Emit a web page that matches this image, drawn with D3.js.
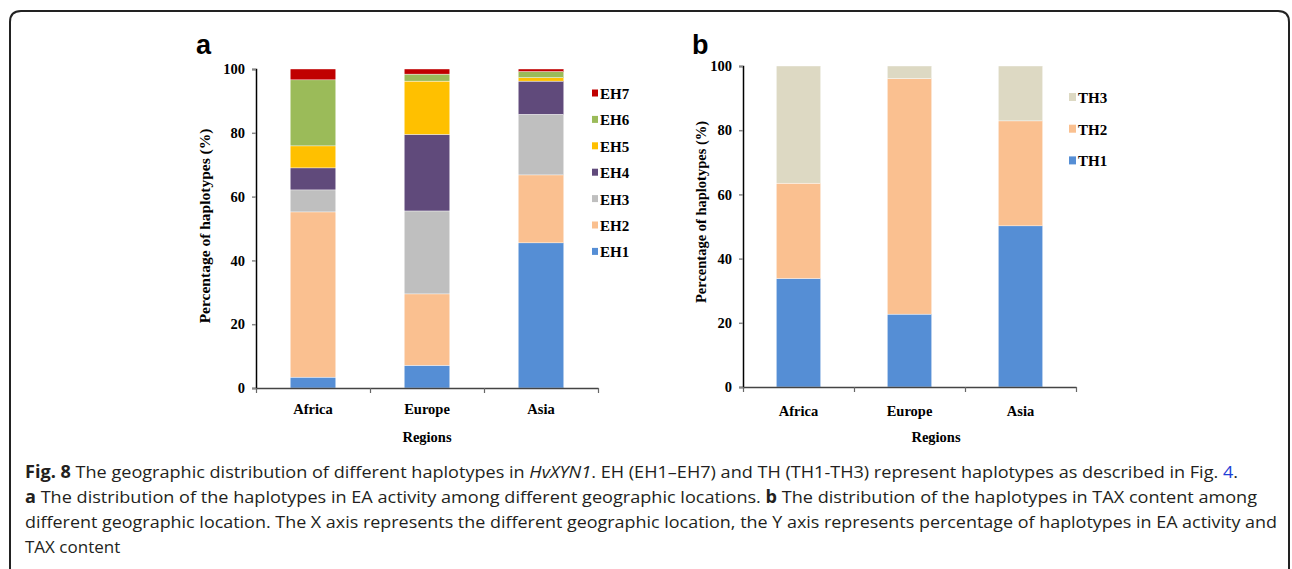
<!DOCTYPE html>
<html>
<head>
<meta charset="utf-8">
<script src="https://cdn.jsdelivr.net/npm/d3@7"></script>
<style>
body { margin: 0; background: #fff; }
svg { display: block; }
.axis text { font-family: "Liberation Serif", "Times New Roman", serif; font-weight: bold; font-size: 14.5px; fill: #000; }
.lbl { font-family: "Liberation Serif", "Times New Roman", serif; font-weight: bold; fill: #000; }
.cap { font-family: "Open Sans", "Noto Sans", sans-serif; font-size: 17px; fill: #231f20; }
</style>
</head>
<body>
<div id="fig"></div>
<script>
// data (percent of haplotypes per region)
var regions = ["Africa", "Europe", "Asia"];
var yTicks = [0, 20, 40, 60, 80, 100];

var ehKeys = ["EH1", "EH2", "EH3", "EH4", "EH5", "EH6", "EH7"];
var eh1 = [3.4, 7.1, 45.5];
var eh2 = [51.8, 22.4, 21.3];
var eh3 = [6.9, 26.0, 19.0];
var eh4 = [6.9, 24.0, 10.4];
var eh5 = [6.9, 16.7, 1.1];
var eh6 = [20.7, 2.2, 1.9];
var eh7 = [3.4, 1.6, 0.8];
var ehColors = ["#558ed5", "#fac090", "#bfbfbf", "#604a7b", "#ffc000", "#9bbb59", "#c00000"];

var thKeys = ["TH1", "TH2", "TH3"];
var th1 = [33.8, 22.7, 50.2];
var th2 = [29.7, 73.4, 32.7];
var th3 = [36.5, 3.9, 17.1];
var thColors = ["#558ed5", "#fac090", "#ddd9c3"];

var W = 1292, H = 569;

var svg = d3.select("#fig").append("svg")
    .attr("width", W)
    .attr("height", H);

// rounded frame
svg.append("path")
    .attr("d", "M10,600 L10,22 Q10,11 21,11 L1278,11 Q1289,11 1289,22 L1289,600")
    .attr("fill", "none")
    .attr("stroke", "#222")
    .attr("stroke-width", 2);

function buildRows(keys, series) {
    return regions.map(function(r, i) {
        var row = { Region: r };
        keys.forEach(function(k, j) { row[k] = series[j][i]; });
        return row;
    });
}

function drawPanel(p) {
    var g = svg.append("g");

    var xScale = d3.scaleBand()
        .domain(regions)
        .range([p.x0, p.x1])
        .paddingInner(0.6)
        .paddingOuter(0.3);

    var yScale = d3.scaleLinear()
        .domain([0, 100])
        .range([p.y0, p.y1]);

    var stack = d3.stack().keys(p.keys)(p.rows);

    g.selectAll("g.layer")
        .data(stack)
        .enter()
        .append("g")
        .attr("class", "layer")
        .attr("fill", function(d, i) { return p.colors[i]; })
        .selectAll("rect")
        .data(function(d) { return d; })
        .enter()
        .append("rect")
        .attr("x", function(d) { return xScale(d.data.Region); })
        .attr("width", xScale.bandwidth())
        .attr("y", function(d) { return yScale(d[1]); })
        .attr("height", function(d) { return yScale(d[0]) - yScale(d[1]); })
        .attr("stroke", "#fff")
        .attr("stroke-width", 0.4);

    // y axis
    var yAxis = d3.axisLeft(yScale)
        .tickValues(yTicks)
        .tickSize(4)
        .tickPadding(7);

    var ya = g.append("g")
        .attr("class", "axis")
        .attr("transform", "translate(" + p.x0 + ",0)")
        .call(yAxis);
    ya.select(".domain").attr("stroke", "#000").attr("stroke-width", 1.5);
    ya.selectAll(".tick line").attr("stroke", "#888").attr("stroke-width", 1.5);

    // x axis: labels at band centres, ticks at band edges
    var xAxis = d3.axisBottom(xScale)
        .tickSize(0)
        .tickPadding(p.labelPad);

    var xa = g.append("g")
        .attr("class", "axis")
        .attr("transform", "translate(0," + p.y0 + ")")
        .call(xAxis);
    xa.select(".domain").attr("stroke", "#444").attr("stroke-width", 1.5);

    var edge = d3.scaleLinear().domain([0, regions.length]).range([p.x0, p.x1]);
    var ea = g.append("g")
        .attr("transform", "translate(0," + p.y0 + ")")
        .call(d3.axisBottom(edge).tickValues(d3.range(regions.length + 1)).tickSize(5).tickFormat(""));
    ea.select(".domain").remove();
    ea.selectAll(".tick line").attr("stroke", "#666").attr("stroke-width", 1.2);

    // titles
    g.append("text")
        .attr("class", "lbl")
        .attr("x", p.regX)
        .attr("y", 442)
        .attr("text-anchor", "middle")
        .style("font-size", "14.5px")
        .text("Regions");

    g.append("text")
        .attr("class", "lbl")
        .attr("transform", "translate(" + p.titleX + "," + p.titleY + ") rotate(-90)")
        .attr("text-anchor", "middle")
        .attr("dominant-baseline", "central")
        .style("font-size", p.titleSize)
        .text("Percentage of haplotypes (%)");

    g.append("text")
        .attr("x", p.letterX)
        .attr("y", 54)
        .style("font-family", "'Liberation Sans', Arial, sans-serif")
        .style("font-weight", "bold")
        .style("font-size", "27px")
        .text(p.letter);

    // legend, top entry is the last key
    var legKeys = p.keys.slice().reverse();
    var leg = g.selectAll("g.leg")
        .data(legKeys)
        .enter()
        .append("g")
        .attr("transform", function(d, i) { return "translate(" + p.legX + "," + (p.legY + i * p.legStep) + ")"; });

    leg.append("rect")
        .attr("x", 0)
        .attr("y", -p.sq[1] / 2)
        .attr("width", p.sq[0])
        .attr("height", p.sq[1])
        .attr("fill", function(d) { return p.colors[p.keys.indexOf(d)]; });

    leg.append("text")
        .attr("class", "lbl")
        .attr("x", p.sq[0] + 2)
        .attr("y", 1)
        .attr("dominant-baseline", "central")
        .style("font-size", "15px")
        .text(function(d) { return d; });
}

drawPanel({
    keys: ehKeys,
    rows: buildRows(ehKeys, [eh1, eh2, eh3, eh4, eh5, eh6, eh7]),
    colors: ehColors,
    x0: 256, x1: 598, y0: 388, y1: 69,
    labelPad: 16,
    regX: 427, titleX: 204, titleY: 226, titleSize: "15.5px",
    letter: "a", letterX: 196,
    legX: 592, legY: 93, legStep: 26.4, sq: [6, 7]
});

drawPanel({
    keys: thKeys,
    rows: buildRows(thKeys, [th1, th2, th3]),
    colors: thColors,
    x0: 743, x1: 1076, y0: 387, y1: 66,
    labelPad: 19,
    regX: 936, titleX: 701, titleY: 212, titleSize: "14.5px",
    letter: "b", letterX: 692,
    legX: 1069, legY: 97, legStep: 31.7, sq: [7, 8]
});

// caption
var capLines = [
    { y: 478, len: 1213, parts: [["Fig. 8", "b"], [" The geographic distribution of different haplotypes in ", ""], ["HvXYN1", "i"], [". EH (EH1\u2013EH7) and TH (TH1-TH3) represent haplotypes as described in Fig. ", ""], ["4", "link"], [".", ""]] },
    { y: 503, len: 1232, parts: [["a", "b"], [" The distribution of the haplotypes in EA activity among different geographic locations. ", ""], ["b", "b"], [" The distribution of the haplotypes in TAX content among", ""]] },
    { y: 528, len: 1252, parts: [["different geographic location. The X axis represents the different geographic location, the Y axis represents percentage of haplotypes in EA activity and", ""]] },
    { y: 553, len: 0, parts: [["TAX content", ""]] }
];

capLines.forEach(function(line) {
    var t = svg.append("text")
        .attr("class", "cap")
        .attr("x", 25)
        .attr("y", line.y);
    if (line.len) {
        t.attr("textLength", line.len).attr("lengthAdjust", "spacingAndGlyphs");
    }
    line.parts.forEach(function(pt) {
        var s = t.append("tspan").text(pt[0]);
        if (pt[1] == "b") s.style("font-weight", "bold");
        if (pt[1] == "i") s.style("font-style", "italic");
        if (pt[1] == "link") s.style("fill", "#1f3fd6");
    });
});
</script>
</body>
</html>
